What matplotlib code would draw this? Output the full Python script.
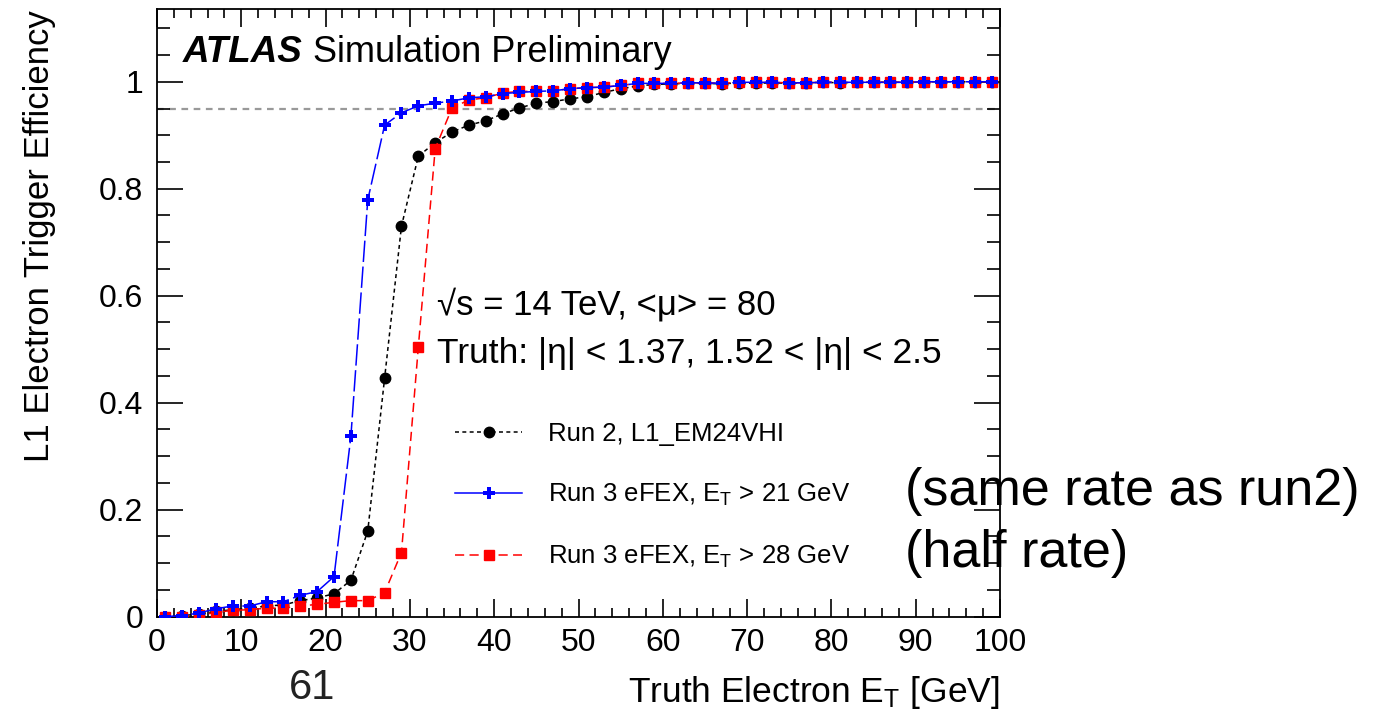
import numpy as np
import matplotlib
matplotlib.use('Agg')
import matplotlib.pyplot as plt
from matplotlib.lines import Line2D
from matplotlib.ticker import MultipleLocator, FixedLocator

plt.rcParams['font.family'] = ['Liberation Sans', 'DejaVu Sans']
plt.rcParams['mathtext.fontset'] = 'custom'
plt.rcParams['mathtext.rm'] = 'Liberation Sans'
plt.rcParams['mathtext.it'] = 'Liberation Sans:italic'

# truth electron ET bin centres (2 GeV bins)
et = np.arange(1, 100, 2)

run2_em24vhi = [0.0, 0.002, 0.005, 0.010, 0.013, 0.016, 0.020, 0.022, 0.030, 0.035,
                0.043, 0.068, 0.160, 0.446, 0.730, 0.861, 0.886, 0.906, 0.919, 0.927,
                0.940, 0.951, 0.960, 0.963, 0.968, 0.972, 0.980, 0.987, 0.992, 0.995,
                0.996, 0.997, 0.997, 0.996, 0.998, 0.997, 0.998, 0.997, 0.998, 0.999,
                0.998, 0.999, 0.999, 0.999, 0.999, 1.000, 1.000, 1.000, 1.000, 1.000]
efex_21 = [0.0, 0.002, 0.007, 0.015, 0.020, 0.020, 0.028, 0.028, 0.040, 0.047,
           0.075, 0.337, 0.779, 0.919, 0.942, 0.955, 0.960, 0.964, 0.970, 0.972,
           0.978, 0.980, 0.982, 0.983, 0.987, 0.989, 0.990, 0.993, 0.997, 0.997,
           0.997, 0.998, 0.998, 0.997, 0.999, 0.999, 0.999, 0.998, 0.998, 0.999,
           0.999, 0.999, 0.999, 0.999, 0.999, 1.000, 1.000, 1.000, 1.000, 1.000]
efex_28 = [0.0, 0.0, 0.003, 0.008, 0.012, 0.013, 0.016, 0.016, 0.020, 0.023,
           0.027, 0.030, 0.030, 0.045, 0.120, 0.504, 0.875, 0.951, 0.966, 0.970,
           0.979, 0.982, 0.982, 0.983, 0.987, 0.989, 0.990, 0.993, 0.997, 0.997,
           0.997, 0.998, 0.998, 0.997, 0.999, 0.999, 0.999, 0.998, 0.998, 0.999,
           0.999, 0.999, 0.999, 0.999, 0.999, 1.000, 1.000, 1.000, 1.000, 1.000]

W, H = 1391, 720
fig = plt.figure(figsize=(W / 100, H / 100), dpi=100)
ax = fig.add_axes([157 / W, 1 - 616.7 / H, 843 / W, 607.7 / H])

ax.axhline(0.95, color='#999999', lw=1.6, ls=(0, (3, 2.5)), zorder=1)

ax.plot(et, run2_em24vhi, color='black', lw=1.1, ls=(0, (2.6, 2.2)),
        marker='o', ms=7.5, mfc='black', mec='black', zorder=3)
ax.plot(et, efex_28, color='red', lw=1.1, ls=(0, (6, 3.5)),
        marker='s', ms=7.5, mfc='red', mec='red', zorder=4)
ax.plot(et, efex_21, color='blue', lw=1.1, ls=(0, (14, 3)),
        marker='P', ms=9, mfc='blue', mec='blue', mew=0, zorder=5)

ax.set_xlim(0, 100)
ax.set_ylim(0, 1.136)
ax.xaxis.set_major_locator(MultipleLocator(10))
ax.xaxis.set_minor_locator(MultipleLocator(2))
ax.yaxis.set_major_locator(FixedLocator([0, 0.2, 0.4, 0.6, 0.8, 1.0]))
ax.yaxis.set_minor_locator(MultipleLocator(0.05))
ax.set_yticklabels(['0', '0.2', '0.4', '0.6', '0.8', '1'])
ax.tick_params(axis='both', which='both', direction='in', top=True, right=True,
               width=1.2, labelsize=23)
ax.tick_params(axis='y', which='major', length=19, pad=10)
ax.tick_params(axis='y', which='minor', length=9.5)
ax.tick_params(axis='x', which='major', length=13, pad=8)
ax.tick_params(axis='x', which='minor', length=6.5)
for s in ax.spines.values():
    s.set_linewidth(1.3)

ax.set_xlabel('Truth Electron E$_\\mathregular{T}$ [GeV]', fontsize=25.5, ha='right')
ax.xaxis.set_label_coords(1.0, -0.095)
fig.text(40 / W, 1 - 10 / H, 'L1 Electron Trigger Efficiency', rotation=90,
         ha='center', va='top', fontsize=25)

fig.text(183 / W, 1 - 52 / H, 'ATLAS', fontsize=26.5, fontweight='bold',
         fontstyle='italic', va='center')
fig.text(313 / W, 1 - 52 / H, 'Simulation Preliminary', fontsize=26, va='center')
fig.text(437 / W, 1 - 305 / H, '\u221as = 14 TeV, <\u03bc> = 80',
         fontsize=25, va='center')
fig.text(437 / W, 1 - 354 / H, 'Truth: |\u03b7| < 1.37, 1.52 < |\u03b7| < 2.5',
         fontsize=25.5, va='center')

handles = [
    Line2D([], [], color='black', lw=1.1, ls=(0, (2.6, 2.2)), marker='o', ms=7.5),
    Line2D([], [], color='blue', lw=1.1, ls='-', marker='P', ms=9, mew=0),
    Line2D([], [], color='red', lw=1.1, ls=(0, (6, 3.5)), marker='s', ms=7.5),
]
labels = ['Run 2, L1_EM24VHI',
          'Run 3 eFEX, E$_\\mathregular{T}$ > 21 GeV',
          'Run 3 eFEX, E$_\\mathregular{T}$ > 28 GeV']
ax.legend(handles, labels, loc='upper left', bbox_to_anchor=(432 / W, 1 - 399 / H),
          bbox_transform=fig.transFigure, frameon=False, fontsize=18.5,
          handlelength=2.6, handletextpad=1.0, labelspacing=1.4)

fig.text(905 / W, 1 - 492 / H, '(same rate as run2)', fontsize=37.5, va='center')
fig.text(905 / W, 1 - 553 / H, '(half rate)', fontsize=37.5, va='center')
fig.text(312 / W, 1 - 688 / H, '61', fontsize=30, va='center', ha='center', color='#222222')

fig.savefig('out.png', dpi=100)
